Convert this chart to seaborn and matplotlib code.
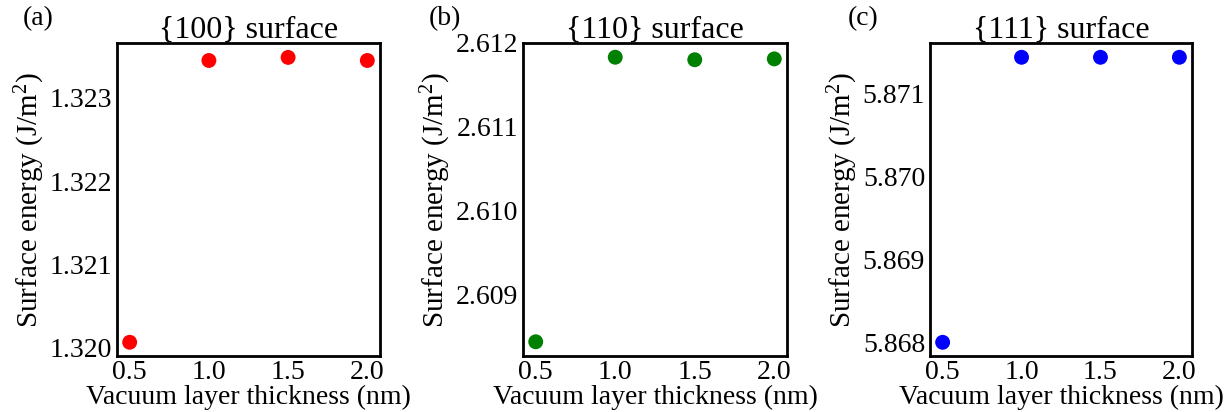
import matplotlib
matplotlib.use("Agg")
import matplotlib.pyplot as plt
import seaborn as sns
import pandas as pd

sns.set_theme(style="white")
plt.rcParams['font.family'] = ['Liberation Serif', 'DejaVu Serif']
plt.rcParams['mathtext.fontset'] = 'custom'
plt.rcParams['mathtext.rm'] = 'Liberation Serif'
plt.rcParams['mathtext.it'] = 'Liberation Serif:italic'
plt.rcParams['text.color'] = 'black'
plt.rcParams['axes.labelcolor'] = 'black'

thickness = [0.5, 1.0, 1.5, 2.0]
energy_100 = [1.320065, 1.323450, 1.323487, 1.323450]
energy_110 = [2.608430, 2.611830, 2.611800, 2.611810]
energy_111 = [5.868000, 5.871434, 5.871434, 5.871434]

titles = ["{100} surface", "{110} surface", "{111} surface"]
panel_labels = ["(a)", "(b)", "(c)"]
colors = ["#ff0000", "#008000", "#0000ff"]
yticks = [[1.320, 1.321, 1.322, 1.323],
          [2.609, 2.610, 2.611, 2.612],
          [5.868, 5.869, 5.870, 5.871]]
ylims = [(1.31990, 1.32366), (2.60826, 2.61200), (5.867835, 5.871606)]
xticks = [0.5, 1.0, 1.5, 2.0]

fig = plt.figure(figsize=(12.3, 4.12), dpi=100)
lefts = [117 / 1230, 523 / 1230, 930 / 1230]
widths = [263 / 1230, 264 / 1230, 262 / 1230]
bottom = 56 / 412
height = 313 / 412
label_x = [23 / 1230, 429 / 1230, 848 / 1230]

for i, energies in enumerate([energy_100, energy_110, energy_111]):
    ax = fig.add_axes([lefts[i], bottom, widths[i], height])
    df = pd.DataFrame({"x": thickness, "y": energies})
    sns.scatterplot(data=df, x="x", y="y", ax=ax, color=colors[i], s=115,
                    edgecolor="none", linewidth=0, zorder=3, clip_on=False)
    ax.set_xlim(0.42, 2.08)
    ax.set_ylim(*ylims[i])
    ax.set_xticks(xticks)
    ax.set_xticklabels([f"{t:.1f}" for t in xticks])
    ax.set_yticks(yticks[i])
    ax.set_yticklabels([f"{t:.3f}" for t in yticks[i]])
    ax.tick_params(axis="x", direction="in", length=3, width=1.5,
                   labelsize=20, pad=3, colors="black")
    ax.tick_params(axis="y", direction="out", length=2.5, width=1.5,
                   labelsize=20, pad=1, colors="black")
    for sp in ax.spines.values():
        sp.set_linewidth(2)
        sp.set_color("black")
    ax.set_xlabel("Vacuum layer thickness (nm)", fontsize=20, labelpad=0)
    ax.set_ylabel("Surface energy (J/m$^2$)", fontsize=21, labelpad=2)
    ax.set_title(titles[i], fontsize=23, pad=4)
    fig.text(label_x[i], 0.955, panel_labels[i], fontsize=20, ha="left", va="center")

fig.savefig("out.png", dpi=100)
